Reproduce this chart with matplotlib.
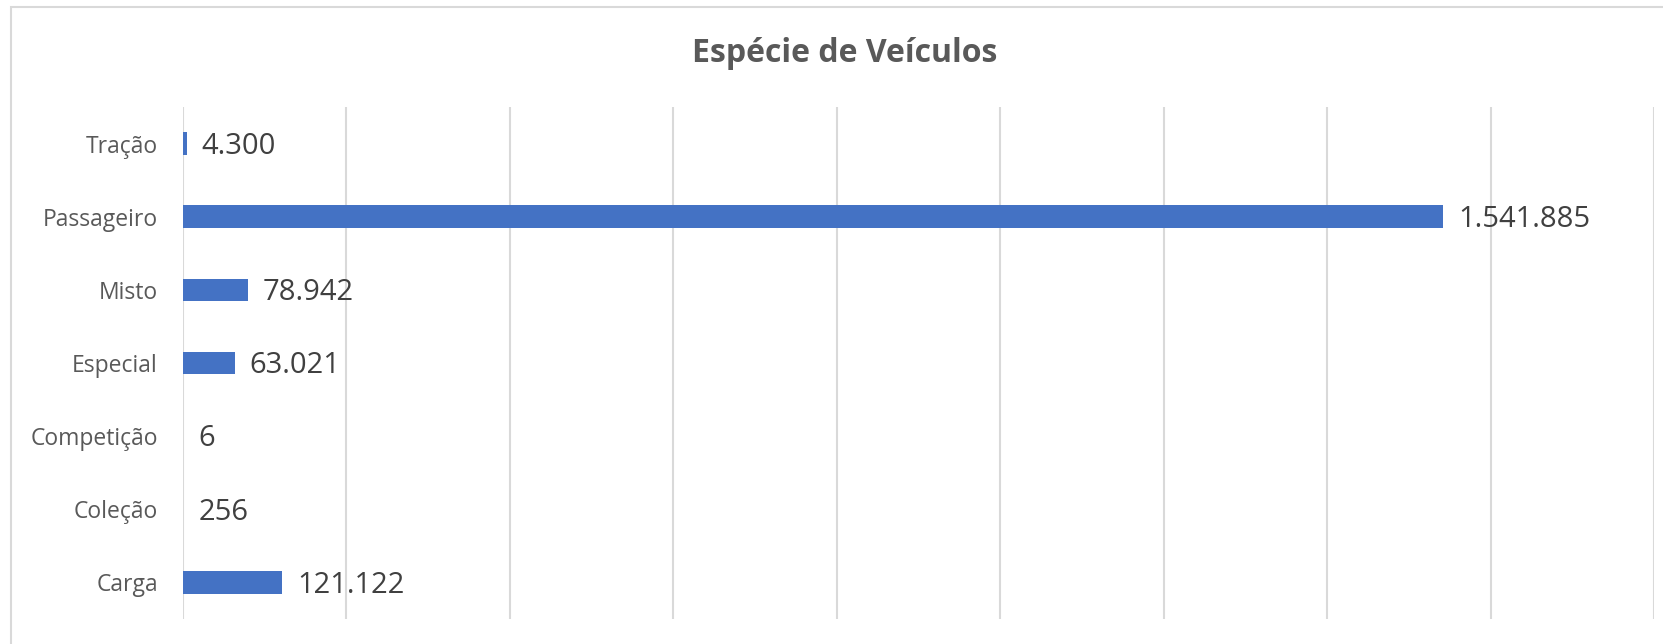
import matplotlib.pyplot as plt
from matplotlib.patches import Rectangle

# data
categorias = ["Carga", "Coleção", "Competição", "Especial", "Misto", "Passageiro", "Tração"]
valores = [121122, 256, 6, 63021, 78942, 1541885, 4300]

def fmt(v):
    return f"{v:,}".replace(",", ".")

plt.rcParams['font.family'] = ['Open Sans', 'DejaVu Sans']

W, H = 1663, 644
fig = plt.figure(figsize=(W / 100, H / 100), dpi=100)

# chart border (Excel style, cut off at right/bottom)
fig.patches.append(Rectangle((11 / W, -0.1), 1.2, 1 - 7 / H + 0.1, transform=fig.transFigure,
                             fill=False, edgecolor='#d9d9d9', linewidth=1.5))

ax = fig.add_axes([183 / W, 1 - 619 / H, (1654 - 183) / W, (619 - 107) / H])

y = range(len(categorias))
ax.barh(y, valores, height=0.31, color='#4472C4', zorder=3)

ax.set_xlim(0, 1800000)
ax.set_ylim(-0.5, len(categorias) - 0.5)
ax.set_xticks(range(0, 1800001, 200000))
ax.tick_params(axis='x', length=0, labelbottom=False)
ax.tick_params(axis='y', length=0, pad=18, labelsize=16.5, labelcolor='#595959')
ax.set_yticks(list(y))
ax.set_yticklabels(categorias)
ax.grid(axis='x', color='#d9d9d9', linewidth=1.5, zorder=0)
for s in ax.spines.values():
    s.set_visible(False)

for i, v in enumerate(valores):
    ax.annotate(fmt(v), (v, i), xytext=(11, -2), textcoords='offset points',
                va='center', ha='left', fontsize=21, color='#404040')

fig.text(845 / W, 1 - 53 / H, "Espécie de Veículos", ha='center', va='center',
         fontsize=23, fontweight='bold', color='#595959')

fig.savefig('out.png', dpi=100, facecolor='white')
